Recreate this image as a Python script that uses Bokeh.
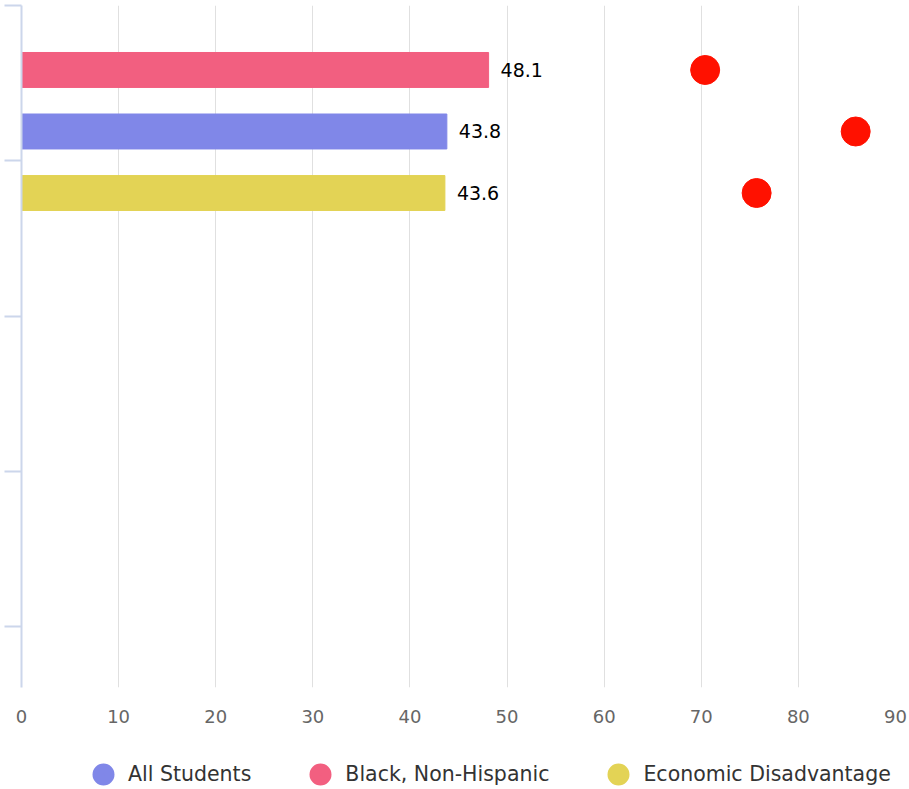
from bokeh.plotting import figure
from bokeh.layouts import column
from bokeh.models import ColumnDataSource, Range1d, FixedTicker, Legend, LegendItem, LabelSet
from bokeh.embed import file_html
from bokeh.resources import INLINE
from bokeh.core.properties import value

# ---- data ----
groups = ["All Students", "Black, Non-Hispanic", "Economic Disadvantage"]
rates = [43.8, 48.1, 43.6]
targets = [85.9, 70.4, 75.7]
colors = ["#8087E8", "#F25F80", "#E3D355"]
row_order = ["Black, Non-Hispanic", "All Students", "Economic Disadvantage"]  # top to bottom
x_ticks = [0, 10, 20, 30, 40, 50, 60, 70, 80, 90]
category_ticks = [0, 1, 2, 3, 4]

# ---- layout constants ----
FIRST_SLOT = 0.415
SLOT_STEP = 0.396
BAR_H = 0.225
FONT = "DejaVu Sans"

ys = [FIRST_SLOT + row_order.index(g) * SLOT_STEP for g in groups]
src = ColumnDataSource(dict(
    group=groups, rate=rates, target=targets, color=colors, y=ys,
    label=[f"{r:.1f}" for r in rates],
))

p = figure(frame_width=874, frame_height=682, x_range=Range1d(0, 90), y_range=Range1d(4.39, 0),
           output_backend="svg", toolbar_location=None,
           min_border_left=21, min_border_right=14, min_border_top=5, min_border_bottom=46)
p.outline_line_color = None
p.background_fill_color = "white"

p.hbar(y="y", left=0, right="rate", height=BAR_H, fill_color="color", line_color="color", source=src)
p.scatter(x="target", y="y", size=29, marker="circle", fill_color="#FF1100", line_color="#FF1100", source=src)

labels = LabelSet(x="rate", y="y", text="label", x_offset=12, text_baseline="middle",
                  text_font_size="19px", text_color="black", text_font=value(FONT), source=src)
p.add_layout(labels)

# axes
xa = p.xaxis[0]
xa.ticker = FixedTicker(ticks=x_ticks)
xa.axis_line_color = None
xa.major_tick_line_color = None
xa.minor_tick_line_color = None
xa.major_label_text_font_size = "18px"
xa.major_label_text_color = "#666666"
xa.major_label_text_font = FONT
xa.major_label_standoff = 16

ya = p.yaxis[0]
ya.ticker = FixedTicker(ticks=category_ticks)
ya.axis_line_color = "#CCD6EB"
ya.axis_line_width = 2
ya.major_tick_line_color = "#CCD6EB"
ya.major_tick_line_width = 2
ya.major_tick_out = 17
ya.major_tick_in = 0
ya.minor_tick_line_color = None
ya.major_label_overrides = {t: "" for t in category_ticks}
ya.major_label_standoff = 0

p.xgrid.ticker = FixedTicker(ticks=x_ticks)
p.xgrid.grid_line_color = "#E0E0E0"
p.ygrid.grid_line_color = None

# ---- legend strip below the chart ----
leg_fig = figure(width=909, height=56, x_range=Range1d(0, 1), y_range=Range1d(0, 1),
                 output_backend="svg", toolbar_location=None, min_border=0)
leg_fig.axis.visible = False
leg_fig.grid.visible = False
leg_fig.outline_line_color = None

nan = float("nan")
items = []
for g, c in zip(groups, colors):
    r = leg_fig.scatter(x=[nan], y=[nan], size=12, marker="circle", fill_color=c, line_color=c, line_width=10)
    items.append(LegendItem(label=g, renderers=[r]))
legend = Legend(items=items, orientation="horizontal", location=(67, 0),
                glyph_width=30, glyph_height=30, label_standoff=10, spacing=54,
                padding=0, margin=0, border_line_color=None, background_fill_alpha=0,
                label_text_font_size="20.5px", label_text_color="#333333", label_text_font=FONT)
leg_fig.add_layout(legend)

layout = column(p, leg_fig, spacing=0)
open("out.html", "w").write(file_html(layout, INLINE))
